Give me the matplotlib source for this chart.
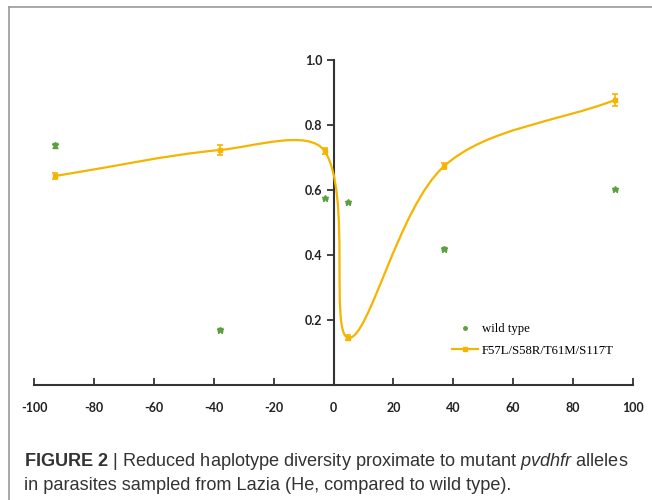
import numpy as np
import matplotlib
matplotlib.use("Agg")
import matplotlib.pyplot as plt
from matplotlib.path import Path
from matplotlib.patches import PathPatch
from matplotlib.lines import Line2D

plt.rcParams['axes.unicode_minus'] = False
plt.rcParams['mathtext.fontset'] = 'custom'
plt.rcParams['mathtext.rm'] = 'Liberation Sans'
plt.rcParams['mathtext.it'] = 'Liberation Sans:italic'
plt.rcParams['mathtext.bf'] = 'Liberation Sans:bold'

# distance (kb) and haplotype diversity
pos = [-93, -38, -3, 5, 37, 94]
he_mut = [0.643, 0.723, 0.720, 0.145, 0.674, 0.877]
err_mut = [0.008, 0.015, 0.008, 0.008, 0.010, 0.018]
he_wild = [0.738, 0.170, 0.575, 0.563, 0.420, 0.603]
err_wild = [0.008, 0.004, 0.004, 0.004, 0.004, 0.004]

xticks = [-100, -80, -60, -40, -20, 0, 20, 40, 60, 80, 100]
yticks = [0.2, 0.4, 0.6, 0.8, 1.0]

orange = '#f5b400'
green = '#5aa03c'
axcol = '#333333'

fig = plt.figure(figsize=(6.52, 5.0), dpi=100)
ax = fig.add_axes([34/652, 1 - 385/500, 599/652, 325/500])
ax.set_xlim(-100, 100)
ax.set_ylim(0, 1.0)

# smoothed line, bezier through points; handles weighted by segment length on screen
P = np.column_stack([pos, he_mut]).astype(float)
sc = np.array([599 / 200, 325 / 1.0])
n = len(P)
d = [np.hypot(*((P[i + 1] - P[i]) * sc)) for i in range(n - 1)]
verts = [P[0]]
codes = [Path.MOVETO]
for i in range(n - 1):
    p1, p2 = P[i], P[i + 1]
    if i > 0:
        t1 = (P[i + 1] - P[i - 1]) * d[i] / (d[i - 1] + d[i]) / 3
    else:
        t1 = (p2 - p1) / 3
    if i + 2 < n:
        t2 = (P[i + 2] - P[i]) * d[i] / (d[i] + d[i + 1]) / 3
    else:
        t2 = (p2 - p1) / 3
    verts += [p1 + t1, p2 - t2, p2]
    codes += [Path.CURVE4] * 3
ax.add_patch(PathPatch(Path(verts, codes), facecolor='none', edgecolor=orange, lw=1.6, zorder=3))

ax.errorbar(pos, he_mut, yerr=err_mut, fmt='s', ms=3.5, color=orange, ecolor=orange,
            elinewidth=1.2, capsize=2.5, capthick=1.2, zorder=4)
ax.errorbar(pos, he_wild, yerr=err_wild, fmt='*', ms=4.5, color=green, ecolor=green,
            elinewidth=1.0, capsize=2, capthick=1.0, zorder=4)

for s in ['top', 'right']:
    ax.spines[s].set_visible(False)
ax.spines['left'].set_position(('data', 0))
ax.spines['left'].set_bounds(0, 1.0)
for s in ['left', 'bottom']:
    ax.spines[s].set_color(axcol)
    ax.spines[s].set_linewidth(1.5)
ax.set_xticks(xticks)
ax.set_yticks(yticks)
ax.set_yticklabels(['%.1f' % v for v in yticks])
ax.tick_params(axis='x', direction='in', length=5, width=1.3, color=axcol, pad=12)
ax.tick_params(axis='y', direction='out', length=5, width=1.3, color=axcol, pad=3)
for lab in ax.get_xticklabels() + ax.get_yticklabels():
    lab.set_fontfamily('Lato')
    lab.set_fontweight('bold')
    lab.set_fontsize(9)
    lab.set_color('#222222')

h1 = Line2D([], [], color=green, marker='o', ms=2.5, ls='none')
h2 = Line2D([], [], color=orange, marker='s', ms=3, lw=1.6)
ax.legend([h1, h2], ['wild type', 'F57L/S58R/T61M/S117T'], loc='upper left',
          bbox_to_anchor=(0.697, 0.19), frameon=False, handlelength=2.1,
          borderpad=0, borderaxespad=0, labelspacing=0.75, handletextpad=0.3,
          prop={'family': 'Liberation Serif', 'size': 9.2})

# frame lines
fig.add_artist(Line2D([9/652, 1], [1 - 7/500, 1 - 7/500], color='#999999', lw=1.2))
fig.add_artist(Line2D([9/652, 9/652], [0, 1 - 7/500], color='#999999', lw=1.2))

cap1 = r'$\bf{FIGURE\ 2}$ | Reduced haplotype diversity proximate to mutant $\it{pvdhfr}$ alleles'
cap2 = 'in parasites sampled from Lazia (He, compared to wild type).'
fig.text(24/652, 1 - 461/500, cap1, fontfamily='Liberation Sans', fontsize=13.1,
         color='#333333', va='center')
fig.text(24/652, 1 - 485/500, cap2, fontfamily='Liberation Sans', fontsize=13.1,
         color='#333333', va='center')

fig.savefig('out.png', dpi=100)
